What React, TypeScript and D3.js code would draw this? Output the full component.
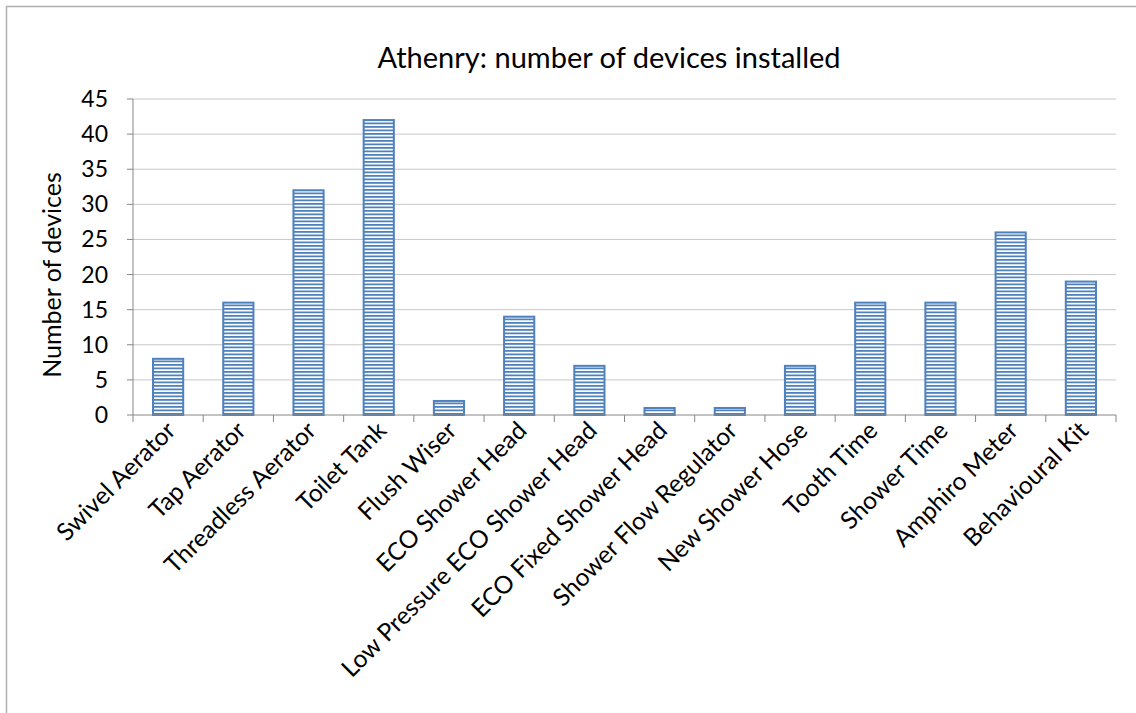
import React from "react";
import * as d3 from "d3";

const categories = [
  "Swivel Aerator",
  "Tap Aerator",
  "Threadless Aerator",
  "Toilet Tank",
  "Flush Wiser",
  "ECO Shower Head",
  "Low Pressure ECO Shower Head",
  "ECO Fixed Shower Head",
  "Shower Flow Regulator",
  "New Shower Hose",
  "Tooth Time",
  "Shower Time",
  "Amphiro Meter",
  "Behavioural Kit",
];
const values = [8, 16, 32, 42, 2, 14, 7, 1, 1, 7, 16, 16, 26, 19];
const yTicks = [0, 5, 10, 15, 20, 25, 30, 35, 40, 45];
const title = "Athenry: number of devices installed";
const yLabel = "Number of devices";

const W = 1136;
const H = 713;
const FONT = "Lato, 'Open Sans', sans-serif";

export default function App() {
  const left = 133;
  const right = 1116;
  const top = 99;
  const bottom = 415;
  const x = d3.scaleBand<string>().domain(categories).range([left, right]).paddingInner(0.57).paddingOuter(0.285);
  const xb = d3.scaleBand<string>().domain(categories).range([left, right]);
  const y = d3.scaleLinear().domain([0, 45]).range([bottom, top]);
  const blue = "#4f81bd";
  return (
    <svg width={W} height={H} style={{ position: "absolute", left: 0, top: 0 }}>
      <defs>
        <pattern id="hstripe" patternUnits="userSpaceOnUse" width={8} height={3.5}>
          <rect x={0} y={0} width={8} height={3.5} fill="#ffffff" />
          <rect x={0} y={0} width={8} height={1.8} fill={blue} />
        </pattern>
      </defs>
      <rect x={0} y={0} width={W} height={H} fill="#fff" />
      <path d={`M6.5,${H + 5} V6.5 H${W + 5}`} fill="none" stroke="#b0b0b0" strokeWidth={1.5} />
      <text x={609} y={68} textAnchor="middle" fontFamily={FONT} fontSize={29} fill="#000">
        {title}
      </text>
      {yTicks.map((t) => (
        <g key={t}>
          {t > 0 && (
            <line x1={left} x2={right} y1={y(t)} y2={y(t)} stroke="#c8c8c8" strokeWidth={1} />
          )}
          <line x1={left - 6} x2={left} y1={y(t)} y2={y(t)} stroke="#868686" strokeWidth={1} />
          <text x={left - 25} y={y(t) + 8} textAnchor="end" fontFamily={FONT} fontSize={23} fill="#000">
            {t}
          </text>
        </g>
      ))}
      <line x1={left} x2={left} y1={top} y2={bottom} stroke="#868686" strokeWidth={1} />
      {categories.map((c, i) => (
        <rect
          key={c}
          x={x(c)!}
          y={y(values[i])}
          width={x.bandwidth()}
          height={bottom - y(values[i])}
          fill="url(#hstripe)"
          stroke={blue}
          strokeWidth={2}
        />
      ))}
      <line x1={left} x2={right} y1={bottom} y2={bottom} stroke="#868686" strokeWidth={1} />
      {categories.map((c) => (
        <line key={c} x1={xb(c)!} x2={xb(c)!} y1={bottom} y2={bottom + 7} stroke="#868686" strokeWidth={1} />
      ))}
      <line x1={right} x2={right} y1={bottom} y2={bottom} stroke="#868686" strokeWidth={1} />
      <line x1={right} x2={right} y1={bottom} y2={bottom + 7} stroke="#868686" strokeWidth={1} />
      {categories.map((c) => {
        const cx = xb(c)! + xb.bandwidth() / 2 + 9;
        const cy = 432;
        return (
          <text
            key={c}
            transform={`translate(${cx},${cy}) rotate(-45)`}
            textAnchor="end"
            fontFamily={FONT}
            fontSize={24.5}
            fill="#000"
          >
            {c}
          </text>
        );
      })}
      <text
        transform={`translate(61,${(170 + 380) / 2}) rotate(-90)`}
        textAnchor="middle"
        fontFamily={FONT}
        fontSize={25}
        fill="#000"
      >
        {yLabel}
      </text>
    </svg>
  );
}
